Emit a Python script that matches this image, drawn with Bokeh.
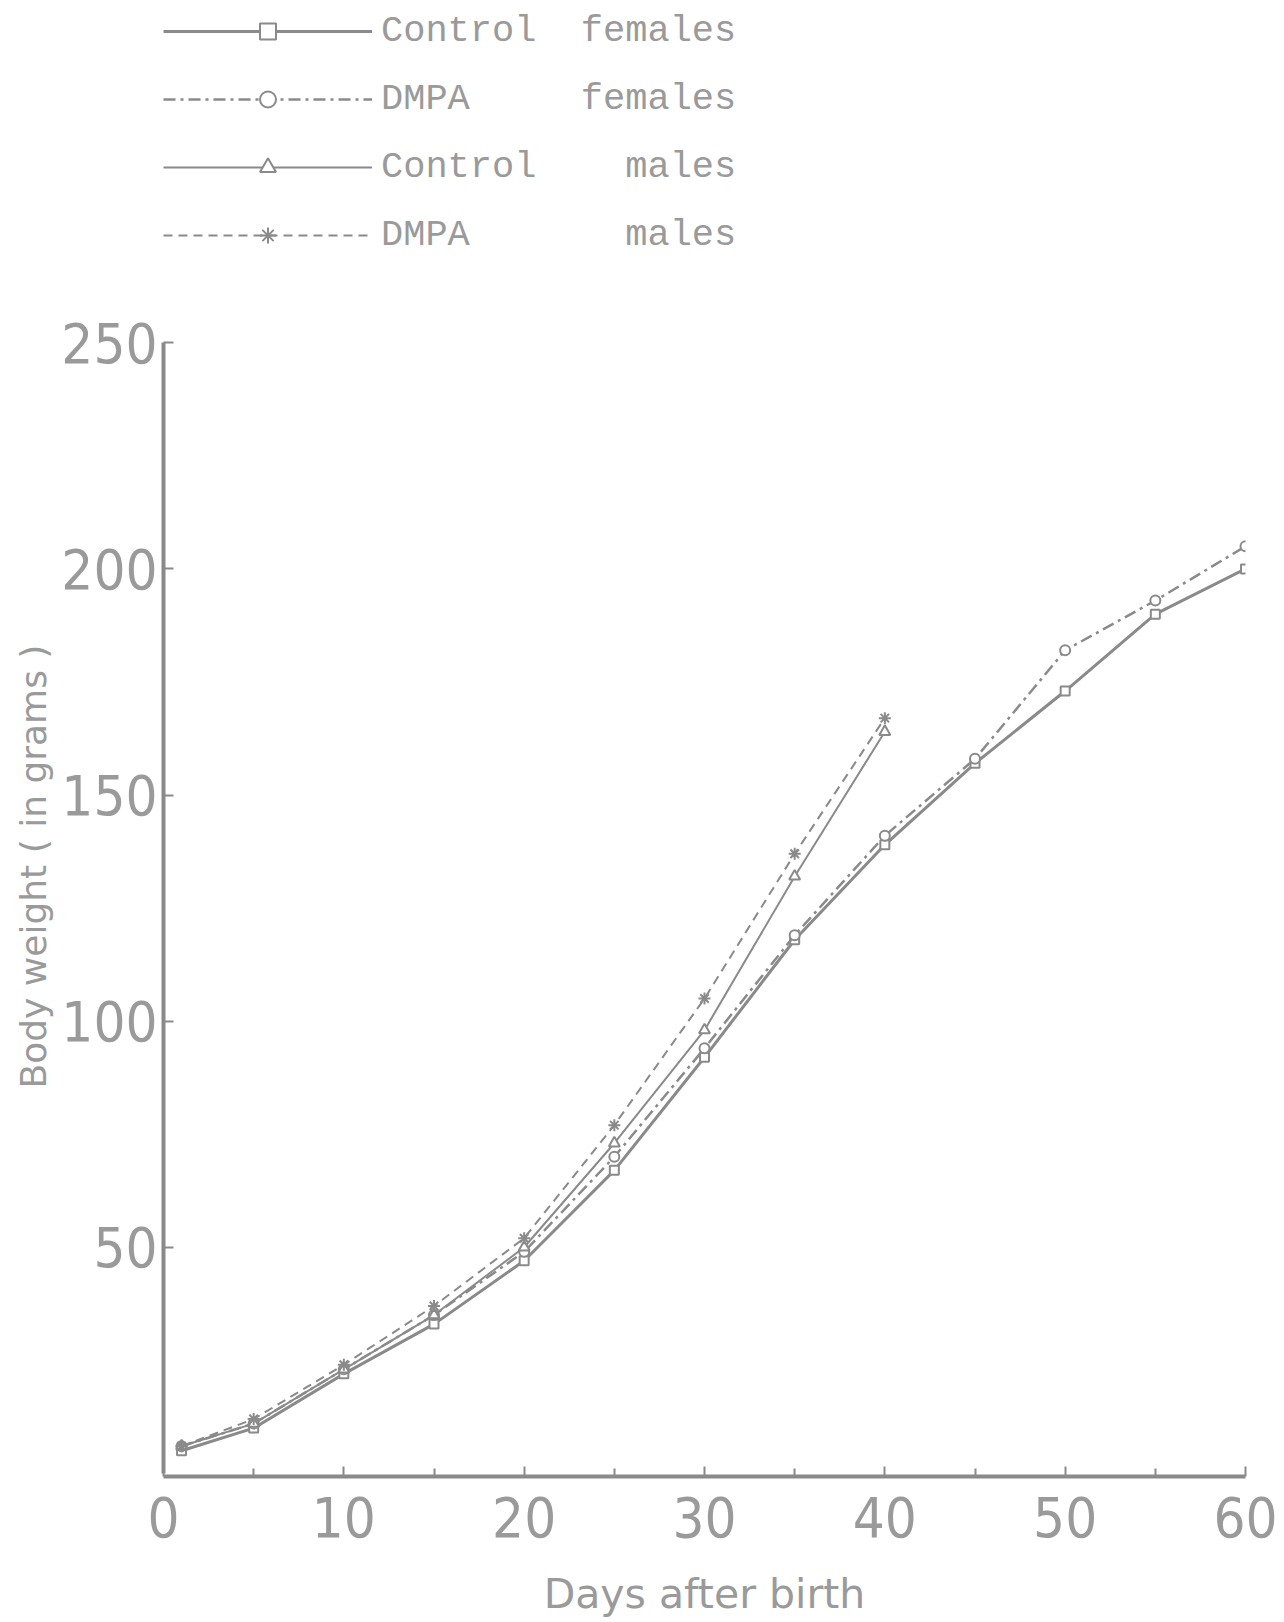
from bokeh.plotting import figure
from bokeh.models import Range1d, FixedTicker, Legend, LegendItem, Title
from bokeh.embed import file_html
from bokeh.resources import INLINE

# ---- data ----
days_female = [1, 5, 10, 15, 20, 25, 30, 35, 40, 45, 50, 55, 60]
days_male = [1, 5, 10, 15, 20, 25, 30, 35, 40]
control_females = [5, 10, 22, 33, 47, 67, 92, 118, 139, 157, 173, 190, 200]
dmpa_females = [6, 11, 23, 35, 49, 70, 94, 119, 141, 158, 182, 193, 205]
control_males = [6, 11, 23, 35, 50, 73, 98, 132, 164]
dmpa_males = [6, 12, 24, 37, 52, 77, 105, 137, 167]
x_ticks = [0, 10, 20, 30, 40, 50, 60]
x_minor_ticks = [5, 15, 25, 35, 45, 55]
y_ticks = [50, 100, 150, 200, 250]
labels = ["Control  females", "DMPA     females", "Control    males", "DMPA       males"]

INK = "#8a8a8a"
TXT = "#9a9a9a"
TICK_FONT = "'DejaVu Sans Condensed', 'DejaVu Sans'"

W, H = 1284, 1620
# frame reaches the top of the page so that the legend (drawn above the
# y-axis end) is not clipped; the axes are bounded to the data extent.
p = figure(width=W, height=H, output_backend="svg", toolbar_location=None,
           x_range=Range1d(0, 60), y_range=Range1d(-0.7, 325.7),
           min_border_left=163, min_border_right=39, min_border_top=0,
           min_border_bottom=143)
p.outline_line_color = None
p.grid.visible = False
p.background_fill_color = "white"

r1l = p.line(days_female, control_females, line_color=INK, line_width=3)
r1s = p.scatter(days_female, control_females, marker="square", size=9,
                line_color=INK, fill_color="white", line_width=2)
r2l = p.line(days_female, dmpa_females, line_color=INK, line_width=2.5,
             line_dash="12 5 3 5")
r2s = p.scatter(days_female, dmpa_females, marker="circle", size=10,
                line_color=INK, fill_color="white", line_width=2)
r3l = p.line(days_male, control_males, line_color=INK, line_width=2)
r3s = p.scatter(days_male, control_males, marker="triangle", size=11,
                line_color=INK, fill_color="white", line_width=2)
r4l = p.line(days_male, dmpa_males, line_color=INK, line_width=2,
             line_dash="9 6")
r4s = p.scatter(days_male, dmpa_males, marker="asterisk", size=12,
                line_color=INK, line_width=2)

for ax in (p.xaxis[0], p.yaxis[0]):
    ax.axis_line_color = INK
    ax.axis_line_width = 4
    ax.major_tick_line_color = INK
    ax.major_tick_line_width = 2
    ax.major_tick_in = 10
    ax.major_tick_out = 0
    ax.minor_tick_line_color = None
    ax.major_label_text_color = TXT
    ax.major_label_text_font = TICK_FONT
    ax.major_label_text_font_size = "56px"
    ax.axis_label_text_color = TXT
    ax.axis_label_text_font = "DejaVu Sans"
    ax.axis_label_text_font_style = "normal"

p.xaxis[0].ticker = FixedTicker(ticks=x_ticks, minor_ticks=x_minor_ticks)
p.xaxis[0].minor_tick_line_color = INK
p.xaxis[0].minor_tick_line_width = 2
p.xaxis[0].minor_tick_in = 8
p.xaxis[0].minor_tick_out = 0
p.yaxis[0].ticker = FixedTicker(ticks=y_ticks)
p.xaxis[0].bounds = (0, 60)
p.yaxis[0].bounds = (0, 250)
p.xaxis[0].major_label_standoff = 20
p.yaxis[0].major_label_standoff = 6
p.xaxis[0].axis_label = "Days after birth"
p.xaxis[0].axis_label_text_font_size = "41px"
p.xaxis[0].axis_label_standoff = 30

ytitle = Title(text="Body weight ( in grams )", align="left", offset=388,
               text_font="DejaVu Sans", text_font_size="36px",
               text_font_style="normal", text_color=TXT, standoff=10)
p.add_layout(ytitle, "left")

legend = Legend(items=[
    LegendItem(label=labels[0], renderers=[r1l, r1s]),
    LegendItem(label=labels[1], renderers=[r2l, r2s]),
    LegendItem(label=labels[2], renderers=[r3l, r3s]),
    LegendItem(label=labels[3], renderers=[r4l, r4s]),
], location=(0, 1220), orientation="vertical",
    glyph_width=209, glyph_height=40, label_height=40, spacing=26,
    label_standoff=9, padding=0, margin=0,
    label_text_font="Liberation Mono", label_text_font_size="37px",
    label_text_color=TXT, border_line_color=None, background_fill_alpha=0)
p.add_layout(legend, "center")

open("out.html", "w").write(file_html(p, INLINE))
